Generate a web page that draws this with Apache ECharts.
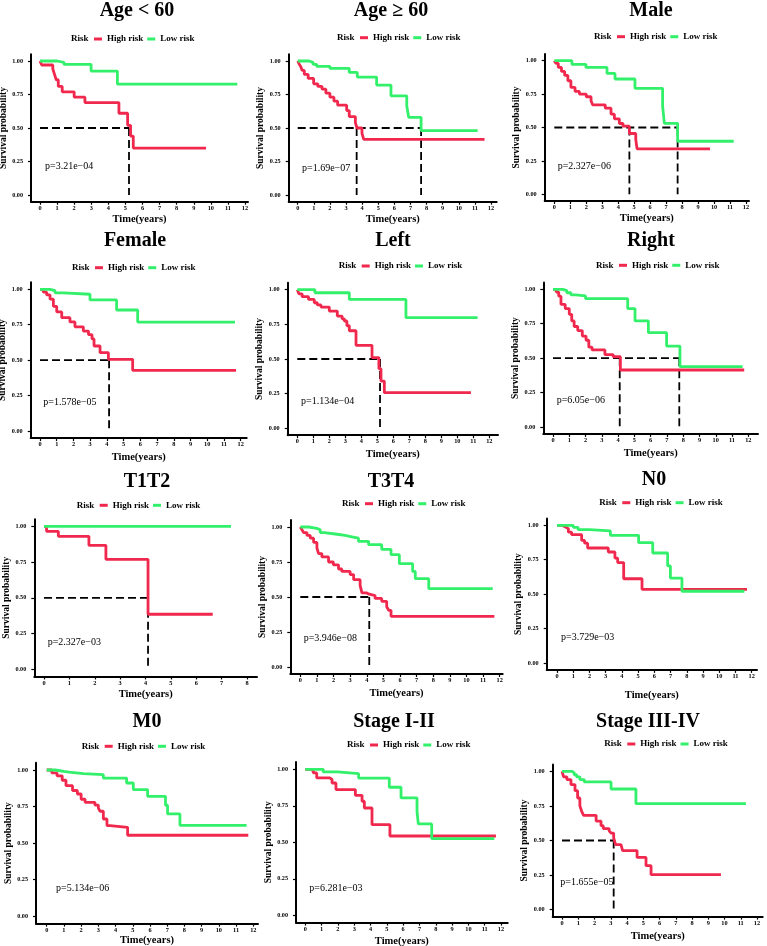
<!DOCTYPE html>
<html>
<head>
<meta charset="utf-8">
<title>Survival curves by subgroup</title>
<script src="https://cdn.jsdelivr.net/npm/echarts@6/dist/echarts.min.js"></script>
<style>
html, body { margin: 0; padding: 0; background: #fff; }
#chart { width: 767px; height: 946px; }
</style>
</head>
<body>
<div id="chart"></div>
<script>
// ---- data: [time in years, survival probability] ----
const ageLt60High = [[0,1],[0.1,0.97],[0.75,0.94],[0.85,0.9],[0.95,0.86],[1.07,0.81],[1.3,0.77],[2.0,0.73],[2.63,0.69],[4.62,0.61],[5.13,0.52],[5.3,0.44],[5.46,0.35],[9.72,0.35]];
const ageLt60Low = [[0,1],[1.0,0.99],[1.4,0.975],[2.99,0.925],[4.53,0.828],[11.55,0.828]];

const ageGe60High = [[0,1],[0.08,0.98],[0.18,0.96],[0.28,0.93],[0.41,0.9],[0.65,0.87],[0.99,0.83],[1.25,0.81],[1.51,0.79],[1.75,0.76],[2.0,0.73],[2.25,0.7],[2.48,0.67],[3.04,0.63],[3.2,0.585],[3.58,0.54],[3.68,0.5],[3.99,0.46],[4.1,0.415],[11.6,0.415]];
const ageGe60Low = [[0,1],[0.7,0.99],[0.95,0.975],[1.18,0.96],[2.0,0.945],[3.2,0.915],[3.7,0.88],[4.9,0.82],[5.79,0.74],[6.77,0.665],[6.89,0.58],[7.66,0.48],[11.17,0.48]];

const maleHigh = [[0,1],[0.1,0.98],[0.25,0.95],[0.45,0.92],[0.65,0.89],[0.85,0.85],[1.04,0.8],[1.3,0.77],[1.57,0.75],[2.0,0.73],[2.3,0.7],[2.4,0.67],[3.19,0.645],[3.55,0.6],[3.76,0.565],[4.07,0.53],[4.3,0.51],[4.7,0.455],[5.1,0.41],[5.18,0.34],[9.75,0.34]];
const maleLow = [[0,1],[1.1,0.973],[1.98,0.95],[3.3,0.905],[3.8,0.863],[5.05,0.793],[6.78,0.66],[6.89,0.531],[7.72,0.397],[11.23,0.397]];

const femaleHigh = [[0,1],[0.2,0.98],[0.4,0.96],[0.6,0.93],[0.8,0.88],[1.0,0.84],[1.3,0.8],[1.79,0.77],[2.09,0.735],[2.59,0.705],[2.9,0.68],[3.11,0.65],[3.23,0.6],[3.59,0.553],[4.09,0.506],[5.54,0.428],[11.72,0.428]];
const femaleLow = [[0,1],[0.6,0.99],[0.9,0.975],[1.4,0.965],[2.99,0.925],[4.58,0.854],[5.84,0.769],[11.66,0.769]];

const leftHigh = [[0,1],[0.1,0.97],[0.3,0.95],[0.7,0.93],[1.06,0.906],[1.25,0.89],[1.48,0.875],[2.0,0.846],[2.5,0.81],[2.8,0.79],[2.94,0.774],[3.1,0.74],[3.25,0.704],[3.67,0.599],[4.67,0.51],[5.1,0.43],[5.23,0.341],[5.44,0.257],[10.85,0.257]];
const leftLow = [[0,1],[1.1,0.978],[3.25,0.93],[6.79,0.798],[11.27,0.798]];

const rightHigh = [[0,1],[0.2,0.98],[0.35,0.95],[0.49,0.89],[0.75,0.86],[1.0,0.818],[1.15,0.77],[1.3,0.73],[1.52,0.7],[1.8,0.66],[2.03,0.63],[2.2,0.58],[2.4,0.56],[3.19,0.525],[3.7,0.51],[4.14,0.414],[11.75,0.414]];
const rightLow = [[0,1],[0.6,0.99],[0.85,0.975],[1.1,0.96],[1.4,0.952],[2.0,0.932],[4.59,0.86],[5.04,0.77],[5.86,0.685],[6.98,0.588],[7.8,0.438],[11.65,0.438]];

const t1t2High = [[0,1],[0.1,0.965],[0.565,0.93],[1.77,0.867],[2.44,0.769],[4.1,0.385],[6.65,0.385]];
const t1t2Low = [[0,1],[7.37,1]];

const t3t4High = [[0,1],[0.1,0.98],[0.2,0.96],[0.4,0.94],[0.6,0.92],[0.8,0.89],[1.0,0.85],[1.1,0.81],[1.3,0.786],[1.7,0.75],[1.99,0.73],[2.3,0.7],[2.5,0.683],[3.0,0.66],[3.21,0.624],[3.6,0.583],[3.71,0.529],[4.0,0.52],[4.15,0.51],[4.5,0.49],[4.9,0.469],[5.2,0.43],[5.32,0.405],[5.46,0.362],[11.68,0.362]];
const t3t4Low = [[0,1],[0.5,0.99],[1.0,0.98],[1.2,0.96],[1.44,0.95],[2.1,0.94],[2.7,0.93],[3.1,0.92],[3.5,0.898],[4.11,0.874],[4.9,0.84],[5.46,0.802],[5.96,0.738],[6.76,0.683],[6.92,0.631],[7.73,0.56],[11.58,0.56]];

const n0High = [[0,1],[0.3,0.99],[0.49,0.976],[0.7,0.95],[0.9,0.932],[1.52,0.89],[1.7,0.87],[1.89,0.835],[3.16,0.806],[3.57,0.762],[3.74,0.729],[4.11,0.612],[5.24,0.535],[11.71,0.535]];
const n0Low = [[0,1],[1.0,0.985],[1.3,0.968],[1.99,0.959],[3.29,0.927],[5.03,0.874],[5.9,0.799],[6.82,0.705],[6.99,0.617],[7.7,0.521],[11.55,0.521]];

const m0High = [[0,1],[0.3,0.98],[0.6,0.96],[0.9,0.93],[1.12,0.893],[1.5,0.86],[1.78,0.836],[2.0,0.8],[2.23,0.779],[2.8,0.76],[3.0,0.74],[3.1,0.718],[3.29,0.665],[3.5,0.62],[3.68,0.608],[4.7,0.554],[11.71,0.554]];
const m0Low = [[0,1],[0.5,0.99],[1.0,0.985],[1.3,0.975],[2.13,0.968],[3.29,0.945],[4.64,0.911],[5.03,0.866],[5.86,0.82],[6.9,0.759],[7.02,0.7],[7.74,0.622],[11.61,0.622]];

const stage12High = [[0,1],[0.35,0.99],[0.49,0.975],[0.7,0.941],[1.5,0.93],[1.64,0.906],[1.88,0.861],[3.07,0.822],[3.48,0.781],[3.62,0.735],[4.09,0.621],[5.19,0.543],[11.69,0.543]];
const stage12Low = [[0,1],[1.1,0.982],[1.98,0.97],[3.27,0.94],[5.15,0.877],[5.87,0.804],[6.85,0.712],[6.93,0.626],[7.75,0.525],[11.59,0.525]];

const stage34High = [[0,1],[0.1,0.96],[0.3,0.94],[0.55,0.904],[0.8,0.86],[0.96,0.807],[1.1,0.75],[1.21,0.711],[1.33,0.682],[2.1,0.64],[2.4,0.607],[2.54,0.586],[2.9,0.57],[3.02,0.554],[3.18,0.518],[3.3,0.47],[3.63,0.458],[3.73,0.427],[4.62,0.378],[5.17,0.318],[5.48,0.253],[9.78,0.253]];
const stage34Low = [[0,1],[0.6,0.99],[0.75,0.975],[0.9,0.96],[1.1,0.94],[1.37,0.923],[3.02,0.872],[4.55,0.766],[11.32,0.766]];

const panelTitles = ['Age < 60', 'Age \u2265 60', 'Male', 'Female', 'Left', 'Right', 'T1T2', 'T3T4', 'N0', 'M0', 'Stage I-II', 'Stage III-IV'];
const pValues = ['p=3.21e\u221204', 'p=1.69e\u221207', 'p=2.327e\u221206', 'p=1.578e\u221205', 'p=1.134e\u221204', 'p=6.05e\u221206',
                 'p=2.327e\u221203', 'p=3.946e\u221208', 'p=3.729e\u221203', 'p=5.134e\u221206', 'p=6.281e\u221203', 'p=1.655e\u221205'];
const highRisk = [ageLt60High, ageGe60High, maleHigh, femaleHigh, leftHigh, rightHigh, t1t2High, t3t4High, n0High, m0High, stage12High, stage34High];
const lowRisk = [ageLt60Low, ageGe60Low, maleLow, femaleLow, leftLow, rightLow, t1t2Low, t3t4Low, n0Low, m0Low, stage12Low, stage34Low];
// median survival times marked with dashed lines
const medians = [[5.21], [3.66, 7.66], [4.7, 7.72], [4.13], [5.17], [4.1, 7.76], [4.1], [4.15], [], [], [], [3.18]];

const xTicks12 = [0, 1, 2, 3, 4, 5, 6, 7, 8, 9, 10, 11, 12];
const xTicks8 = [0, 1, 2, 3, 4, 5, 6, 7, 8];
const yTicks = [0, 0.25, 0.5, 0.75, 1];
const yTickLabels = ['0.00', '0.25', '0.50', '0.75', '1.00'];
const legendNames = ['High risk', 'Low risk'];

// ---- layout (pixels): axis ends, x=0 / last tick, y=1 / y=0, text anchors ----
const layout = [
  {left: 31,    right: 248,   x0: 40,    xe: 245,   xMax: 12, y1: 61,    y0: 195,   gap: 12.5, tx: 137, ty: 11,  riskX: 71,    legY: 39,    px: 45,    py: 166.7},
  {left: 288.7, right: 496.7, x0: 297.7, xe: 491,   xMax: 12, y1: 61,    y0: 195,   gap: 12.5, tx: 391, ty: 11,  riskX: 337,   legY: 37.7,  px: 302,   py: 168.3},
  {left: 544.7, right: 749,   x0: 554.3, xe: 746,   xMax: 12, y1: 60.7,  y0: 194.3, gap: 12,   tx: 651, ty: 10.5, riskX: 594,  legY: 36.7,  px: 557.7, py: 166.7},
  {left: 30.7,  right: 246.7, x0: 40,    xe: 240.7, xMax: 12, y1: 289.3, y0: 431,   gap: 14,   tx: 135, ty: 240.5, riskX: 72,   legY: 267.7, px: 43.3,  py: 402.7},
  {left: 287.7, right: 498,   x0: 297.3, xe: 489.3, xMax: 12, y1: 289.7, y0: 428.3, gap: 14,   tx: 393, ty: 240.5, riskX: 338.7, legY: 266,  px: 301,   py: 401},
  {left: 543.3, right: 758,   x0: 553,   xe: 748.3, xMax: 12, y1: 289.3, y0: 427,   gap: 14,   tx: 651, ty: 240.5, riskX: 596,  legY: 265.3, px: 556.7, py: 400},
  {left: 34.3,  right: 257,   x0: 44,    xe: 247,   xMax: 8,  y1: 526.3, y0: 669.3, gap: 12,   tx: 147, ty: 482, riskX: 76.7,  legY: 505.3, px: 47.7,  py: 642.7},
  {left: 290.3, right: 502.7, x0: 300.3, xe: 499.7, xMax: 12, y1: 527,   y0: 667,   gap: 13.5, tx: 391, ty: 482, riskX: 342,   legY: 503.7, px: 303.7, py: 638},
  {left: 546.7, right: 757,   x0: 557,   xe: 751.7, xMax: 12, y1: 525.3, y0: 663,   gap: 20,   tx: 654, ty: 480, riskX: 599.3, legY: 502.7, px: 561,   py: 637},
  {left: 36,    right: 258,   x0: 46.7,  xe: 253.3, xMax: 12, y1: 770,   y0: 916.3, gap: 11,   tx: 147, ty: 722, riskX: 81.7,  legY: 746.3, px: 56,    py: 888},
  {left: 296,   right: 507.7, x0: 305.3, xe: 501,   xMax: 12, y1: 769.3, y0: 915.3, gap: 13,   tx: 394, ty: 722, riskX: 347,   legY: 745,   px: 309.3, py: 888},
  {left: 552.7, right: 762.7, x0: 562,   xe: 757,   xMax: 12, y1: 771.3, y0: 909.7, gap: 14,   tx: 648, ty: 722, riskX: 604.3, legY: 744,   px: 560.3, py: 882}
];

const SERIF = '"Liberation Serif", "Times New Roman", serif';
const RED = '#F0284D';
const GREEN = '#33F06B';

const option = {
  animation: false,
  backgroundColor: '#fff',
  grid: [], xAxis: [], yAxis: [], series: [], legend: [], graphic: []
};

layout.forEach((L, i) => {
  const ppy = (L.xe - L.x0) / L.xMax;
  const span = L.y0 - L.y1;
  const top = L.y1 - 0.05 * span;
  const bottom = L.y0 + 0.05 * span;
  const xTicks = L.xMax === 8 ? xTicks8 : xTicks12;

  option.grid.push({
    left: L.left, top: top, width: L.right - L.left, height: bottom - top,
    containLabel: false, outerBoundsMode: 'none'
  });

  option.xAxis.push({
    type: 'value', gridIndex: i,
    min: -(L.x0 - L.left) / ppy,
    max: L.xMax + (L.right - L.xe) / ppy,
    name: 'Time(years)', nameLocation: 'middle', nameGap: L.gap,
    nameTextStyle: {fontFamily: SERIF, fontWeight: 'bold', fontSize: 10.5, color: '#000'},
    axisLine: {show: true, onZero: false, lineStyle: {color: '#000', width: 2}},
    axisTick: {show: true, customValues: xTicks, length: 3, lineStyle: {color: '#000', width: 1.2}},
    axisLabel: {customValues: xTicks, margin: 3.5, fontFamily: SERIF, fontWeight: 'bold', fontSize: 6.3, color: '#000'},
    splitLine: {show: false}
  });

  option.yAxis.push({
    type: 'value', gridIndex: i, min: -0.05, max: 1.05,
    name: 'Survival probability', nameLocation: 'middle', nameGap: 21,
    nameTextStyle: {fontFamily: SERIF, fontWeight: 'bold', fontSize: 9.5, color: '#000'},
    axisLine: {show: true, onZero: false, lineStyle: {color: '#000', width: 2}},
    axisTick: {show: true, customValues: yTicks, length: 3, lineStyle: {color: '#000', width: 1.2}},
    axisLabel: {
      customValues: yTicks, margin: 8, fontFamily: SERIF, fontWeight: 'bold', fontSize: 6.2, color: '#000',
      formatter: v => yTickLabels[yTicks.indexOf(v)]
    },
    splitLine: {show: false}
  });

  // dashed median guides
  const m = medians[i];
  if (m.length) {
    const dash = {type: [8, 4], color: '#000', width: 1.8};
    option.series.push({
      type: 'line', xAxisIndex: i, yAxisIndex: i, silent: true, symbol: 'none', z: 2,
      data: [[0, 0.5], [Math.max(...m), 0.5]], lineStyle: dash
    });
    m.forEach(v => option.series.push({
      type: 'line', xAxisIndex: i, yAxisIndex: i, silent: true, symbol: 'none', z: 2,
      data: [[v, 0.5], [v, 0]], lineStyle: dash
    }));
  }

  option.series.push({
    name: 'High risk', type: 'line', step: 'end', xAxisIndex: i, yAxisIndex: i,
    data: highRisk[i], symbol: 'none', z: 3,
    lineStyle: {color: RED, width: 2.8}, itemStyle: {color: RED}
  });
  option.series.push({
    name: 'Low risk', type: 'line', step: 'end', xAxisIndex: i, yAxisIndex: i,
    data: lowRisk[i], symbol: 'none', z: 3,
    lineStyle: {color: GREEN, width: 2.8}, itemStyle: {color: GREEN}
  });

  option.legend.push({
    data: legendNames, left: L.riskX + 23, top: L.legY - 5, padding: 0,
    icon: 'rect', itemWidth: 8, itemHeight: 3, itemGap: 4, selectedMode: false,
    itemStyle: {borderWidth: 0},
    textStyle: {fontFamily: SERIF, fontWeight: 'bold', fontSize: 9, color: '#000', lineHeight: 10}
  });

  option.graphic.push(
    {type: 'text', x: L.tx, y: L.ty, silent: true,
     style: {text: panelTitles[i], font: 'bold 20px ' + SERIF, fill: '#000', align: 'center', verticalAlign: 'middle'}},
    {type: 'text', x: L.riskX, y: L.legY, silent: true,
     style: {text: 'Risk', font: 'bold 9px ' + SERIF, fill: '#000', align: 'left', verticalAlign: 'middle'}},
    {type: 'text', x: L.px, y: L.py, silent: true,
     style: {text: pValues[i], font: '10px ' + SERIF, fill: '#000', align: 'left', verticalAlign: 'middle'}}
  );
});

const chart = echarts.init(document.getElementById('chart'));
chart.setOption(option);
</script>
</body>
</html>
